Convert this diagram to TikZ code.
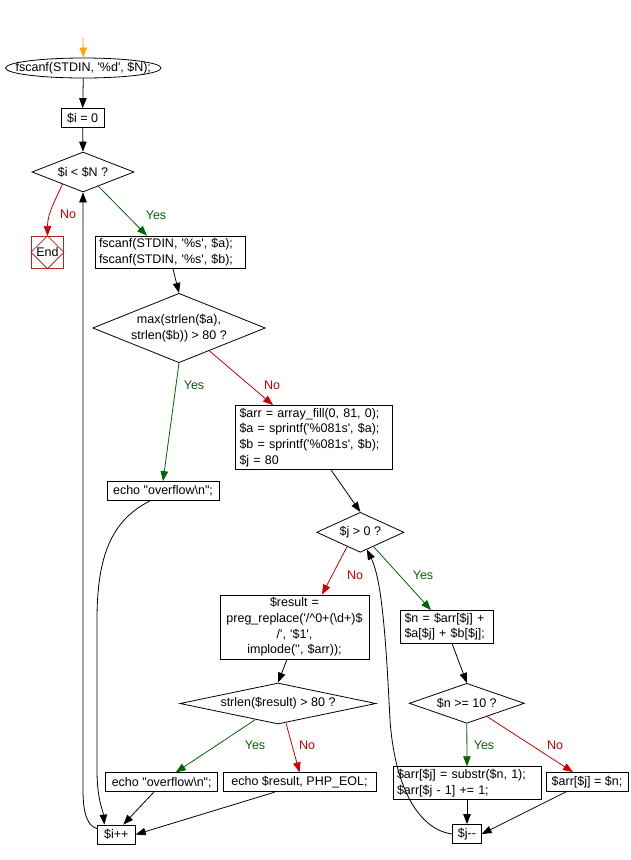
\documentclass[tikz,border=0pt]{standalone}
\usepackage{fontspec}
\newfontfamily\chartfont{Liberation Sans}
\usetikzlibrary{arrows.meta,shapes.geometric,calc}
\definecolor{yesgreen}{RGB}{0,100,0}
\definecolor{nored}{RGB}{204,0,0}
\definecolor{endred}{RGB}{165,42,42}
\definecolor{startorange}{RGB}{255,165,0}
\begin{document}
\begin{tikzpicture}[x=1pt,y=-1pt,line width=.8pt,font=\chartfont\fontsize{12.5}{15.7}\selectfont,
  >={Triangle[length=10pt,width=7.5pt]},
  box/.style={draw,inner xsep=4pt,inner ysep=2.5pt,minimum height=19pt},
  cond/.style={draw,diamond,inner sep=0pt},
  yes/.style={->,yesgreen},
  no/.style={->,nored}]
\useasboundingbox (0,0) rectangle (630,860);
\coordinate (top) at (83,38);
\node[minimum width=156pt,minimum height=20pt,inner sep=0pt] (rd) at (83.3,68) {fscanf(STDIN, '\%d', \$N);};
\draw (rd.center) ellipse [x radius=77.7pt,y radius=10pt];
\node[box,minimum width=43pt] (iz) at (82.7,118) {\$i = 0};
\node[cond,minimum width=102pt,minimum height=40pt,aspect=2.5] (ilp) at (83,172) {\$i < \$N ?};
\node[draw=endred,minimum size=32pt,inner sep=0pt] (end) at (47.5,252.3) {End};
\draw[endred] (end.north)--(end.east)--(end.south)--(end.west)--cycle;
\node[box,align=left,text width=142pt] (rdab) at (170,252.3) {fscanf(STDIN, '\%s', \$a);\\fscanf(STDIN, '\%s', \$b);};
\node[cond,minimum width=172.6pt,minimum height=69.4pt,aspect=2.5,align=center] (mx) at (179,328) {max(strlen(\$a),\\strlen(\$b)) > 80 ?};
\node[box,minimum width=112pt] (ovf1) at (163,491) {echo "overflow\textbackslash n";};
\node[box,align=left,text width=149pt] (fill) at (314,437.5) {\$arr = array\_fill(0, 81, 0);\\\$a = sprintf('\%081s', \$a);\\\$b = sprintf('\%081s', \$b);\\\$j = 80};
\node[cond,minimum width=87.3pt,minimum height=40pt,aspect=2.2] (jc) at (360.3,532.3) {\$j > 0 ?};
\node[box,align=center,text width=141pt] (res) at (294.5,627) {\$result =\\preg\_replace('/\textasciicircum 0+(\textbackslash d+)\$\\/', '\$1',\\implode('', \$arr));};
\node[box,align=left,text width=85pt] (nb) at (447,626.7) {\$n = \$arr[\$j] +\\\$a[\$j] + \$b[\$j];};
\node[cond,minimum width=196pt,minimum height=41pt,aspect=4.8] (sl) at (278,703.5) {strlen(\$result) > 80 ?};
\node[cond,minimum width=115pt,minimum height=40pt,aspect=2.9] (nc) at (466.8,703.3) {\$n >= 10 ?};
\node[box,minimum width=112pt] (ovf2) at (161.7,782.3) {echo "overflow\textbackslash n";};
\node[box,minimum width=153pt] (echores) at (299.5,782.3) {echo \$result, PHP\_EOL;};
\node[box,align=left,text width=140pt] (sub) at (467,783) {\$arr[\$j] = substr(\$n, 1);\\\$arr[\$j - 1] += 1;};
\node[box,minimum width=82pt] (setn) at (587,782) {\$arr[\$j] = \$n;};
\node[box,minimum width=38pt] (iinc) at (116.3,834.5) {\$i++};
\node[box,minimum width=28.5pt] (jdec) at (467,834) {\$j--};
\node[nored] (no1) at (68,214) {No}; \node[yesgreen] (yes1) at (156,215) {Yes};
\node[yesgreen] (yes2) at (194,385) {Yes}; \node[nored] (no2) at (272,385) {No};
\node[nored] (no3) at (355,575) {No}; \node[yesgreen] (yes3) at (423,575) {Yes};
\node[yesgreen] (yes4) at (255,745) {Yes}; \node[nored] (no4) at (307,745) {No};
\node[yesgreen] (yes5) at (484,745) {Yes}; \node[nored] (no5) at (555,745) {No};
\draw[->,startorange] (top) -- (rd.north);
\draw[->] (rd.south) -- (iz.north);
\draw[->] (iz.south) -- (ilp.north);
\draw[no] ($(ilp.west)!0.6!(ilp.south)$) to[out=-115,in=90] (end.north);
\draw[yes] ($(ilp.south)!0.3!(ilp.east)$) -- ($(rdab.north)+(-23,0)$);
\draw[->] ($(rdab.south)+(3,0)$) -- (mx.north);
\draw[yes] (mx.south) -- (ovf1.north);
\draw[no] ($(mx.south)!0.35!(mx.east)$) -- ($(fill.north)+(-41,0)$);
\draw[->] ($(fill.south)+(17,0)$) -- (jc.north);
\draw[no] ($(jc.west)!0.7!(jc.south)$) -- ($(res.north)+(27.5,0)$);
\draw[yes] ($(jc.south)!0.3!(jc.east)$) -- ($(nb.north)+(-16,0)$);
\draw[->] ($(res.south)+(-7.5,0)$) -- (sl.north);
\draw[yes] ($(sl.west)!0.77!(sl.south)$) -- ($(ovf2.north)+(14,0)$);
\draw[no] ($(sl.south)!0.08!(sl.east)$) -- (echores.north);
\draw[->] ($(nb.south)+(5,0)$) -- (nc.north);
\draw[yes] (nc.south) -- (sub.north);
\draw[no] ($(nc.south)!0.35!(nc.east)$) -- ($(setn.north)+(-14,0)$);
\draw[->] (sub.south) -- (jdec.north);
\draw[->] ($(setn.south)+(-21,0)$) -- (jdec.east);
\draw[->] ($(ovf1.south)+(-13,0)$) .. controls (112,520) and (97,555) .. (97,620) -- (97,770) .. controls (97,800) and (103,810) .. ($(iinc.north)+(-12,0)$);
\draw[->] ($(ovf2.south)+(-8,0)$) -- ($(iinc.north)+(7,0)$);
\draw[->] ($(echores.south)+(-25,0)$) -- (iinc.east);
\draw[->] ($(iinc.west)+(0,-6)$) .. controls (88,826) and (83,815) .. (83,790) -- (ilp.south);
\draw[->] (jdec.west) .. controls (420,830) and (395,790) .. (390,720) .. controls (386,640) and (382,580) .. ($(jc.south)!0.15!(jc.east)$);
\end{tikzpicture}
\end{document}
